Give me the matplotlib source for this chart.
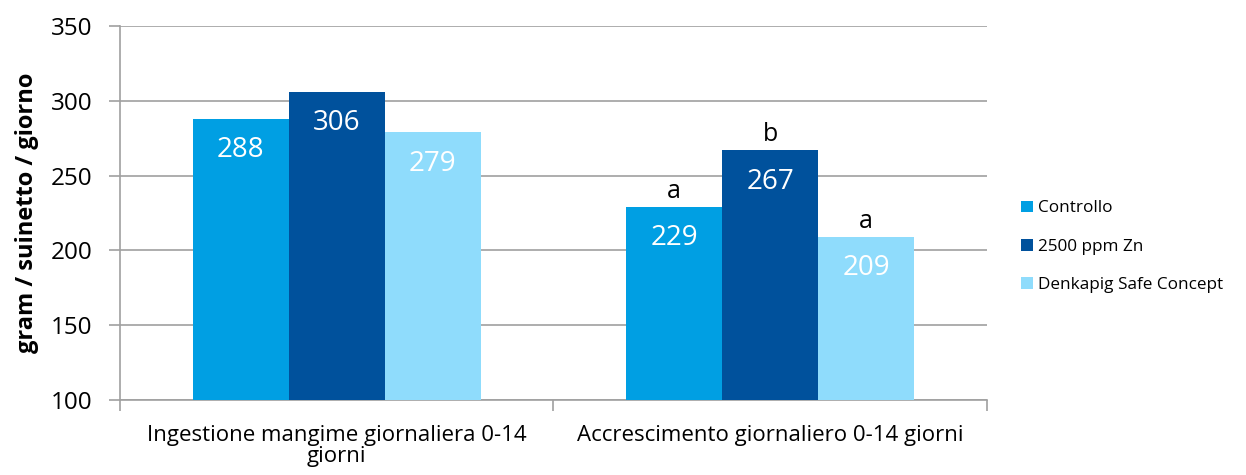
import numpy as np
import matplotlib.pyplot as plt

# Dati
categorie = ['Ingestione mangime giornaliera 0-14\ngiorni', 'Accrescimento giornaliero 0-14 giorni']
serie = ['Controllo', '2500 ppm Zn', 'Denkapig Safe Concept']
valori = {
    'Controllo': [288, 229],
    '2500 ppm Zn': [306, 267],
    'Denkapig Safe Concept': [279, 209],
}
lettere = {
    'Controllo': ['', 'a'],
    '2500 ppm Zn': ['', 'b'],
    'Denkapig Safe Concept': ['', 'a'],
}
colori = ['#009FE3', '#00519C', '#8FDCFC']

plt.rcParams['font.family'] = ['Open Sans', 'DejaVu Sans']

fig = plt.figure(figsize=(12.46, 4.75), dpi=100)
ax = fig.add_axes([0.0963, 0.158, 0.6958, 0.787])

x = np.arange(len(categorie))
w = 0.2215
for i, (nome, col) in enumerate(zip(serie, colori)):
    pos = x + (i - 1) * w
    bars = ax.bar(pos, valori[nome], width=w, color=col, label=nome, zorder=3)
    for b, v, l in zip(bars, valori[nome], lettere[nome]):
        cx = b.get_x() + b.get_width() / 2
        ax.text(cx, v - 21, str(v), ha='center', va='center', color='white',
                fontsize=20, zorder=4)
        if l:
            ax.text(cx, v + 2, l, ha='center', va='bottom', color='black',
                    fontsize=18, zorder=4)

ax.set_xlim(-0.5, 1.5)
ax.set_ylim(100, 350)
ax.set_yticks(np.arange(100, 351, 50))
ax.yaxis.grid(True, color='#a0a0a0', linewidth=1.2, zorder=0)
ax.set_axisbelow(True)

for s in ['top', 'right']:
    ax.spines[s].set_visible(False)
for s in ['left', 'bottom']:
    ax.spines[s].set_color('#a0a0a0')
    ax.spines[s].set_linewidth(1.2)

# tick maggiori ai confini delle categorie, etichette al centro
ax.set_xticks([-0.5, 0.5, 1.5])
ax.set_xticklabels([])
ax.set_xticks(x, minor=True)
ax.set_xticklabels(categorie, minor=True, fontsize=16, linespacing=1.0)
ax.tick_params(axis='x', which='major', length=8, color='#a0a0a0', width=1.2)
ax.tick_params(axis='x', which='minor', length=0, pad=18)
ax.tick_params(axis='y', length=8, color='#a0a0a0', width=1.2, labelsize=17.5, pad=12)

ax.set_ylabel('gram / suinetto / giorno', fontsize=17, fontweight='bold', labelpad=8)

ax.legend(loc='center left', bbox_to_anchor=(1.022, 0.41), frameon=False,
          fontsize=12.3, handlelength=0.7, handleheight=0.7, handletextpad=0.3,
          labelspacing=1.3)

fig.savefig('out.png', dpi=100)
